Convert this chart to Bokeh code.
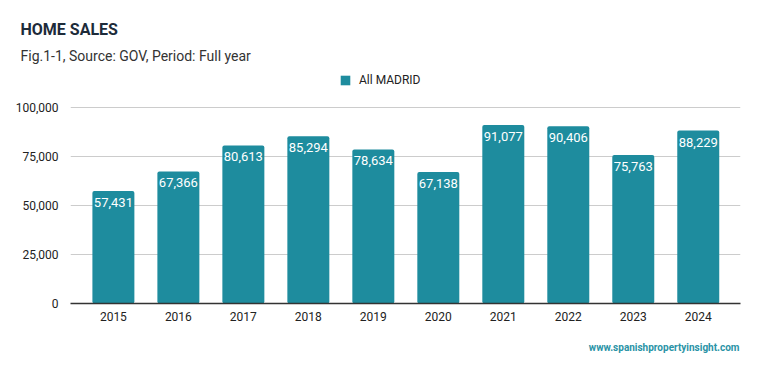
from bokeh.plotting import figure
from bokeh.models import (Range1d, FixedTicker, NumeralTickFormatter, Title,
                          ColumnDataSource, Legend, LegendItem)
from bokeh.core.properties import value
from bokeh.embed import file_html
from bokeh.resources import INLINE

years = [2015, 2016, 2017, 2018, 2019, 2020, 2021, 2022, 2023, 2024]
sales = [57431, 67366, 80613, 85294, 78634, 67138, 91077, 90406, 75763, 88229]
y_ticks = [0, 25000, 50000, 75000, 100000]
series_name = "All MADRID"
title_text = "HOME SALES"
subtitle_text = "Fig.1-1, Source: GOV, Period: Full year"
credit_text = "www.spanishpropertyinsight.com"

BAR = "#1e8c9e"
FONT = "Roboto"

FRAME_TOP = 64
x0, x1 = 2014.34, 2024.65
y1 = 100000 * (303 - FRAME_TOP) / 196.0

p = figure(width=751, height=371, output_backend="svg", toolbar_location=None,
           x_range=Range1d(x0, x1), y_range=Range1d(0, y1),
           min_border_left=70, min_border_right=11, min_border_top=FRAME_TOP,
           min_border_bottom=68, outline_line_color=None)

src = ColumnDataSource(dict(x=years, top=sales,
                            lab=[f"{v:,}" for v in sales]))
bars = p.vbar(x="x", top="top", width=0.646, source=src, fill_color=BAR,
              line_color=None, border_radius=2)
p.text(x="x", y="top", text="lab", source=src, text_align="center",
       text_baseline="top", y_offset=7, text_color="white",
       text_font=value(FONT), text_font_size="13px")

# axes
p.xaxis.ticker = FixedTicker(ticks=years)
p.xaxis.major_tick_line_color = None
p.xaxis.minor_tick_line_color = None
p.xaxis.axis_line_color = "#333333"
p.xaxis.axis_line_width = 1.5
p.xaxis.major_label_standoff = 2
p.xaxis.major_label_text_font = FONT
p.xaxis.major_label_text_font_size = "12px"
p.xaxis.major_label_text_color = "#222222"

p.yaxis.ticker = FixedTicker(ticks=y_ticks)
p.yaxis.formatter = NumeralTickFormatter(format="0,0")
p.yaxis.axis_line_color = None
p.yaxis.major_tick_line_color = None
p.yaxis.minor_tick_line_color = None
p.yaxis.major_label_standoff = 6
p.yaxis.major_label_text_font = FONT
p.yaxis.major_label_text_font_size = "12px"
p.yaxis.major_label_text_color = "#222222"

p.xgrid.grid_line_color = None
p.ygrid.ticker = FixedTicker(ticks=y_ticks)
p.ygrid.grid_line_color = "#cccccc"
p.ygrid.grid_line_width = 1

legend = Legend(items=[LegendItem(label=series_name, renderers=[bars])],
                location=(269, 216), orientation="horizontal",
                glyph_width=12, glyph_height=12, label_standoff=8,
                padding=0, margin=0, border_line_color=None,
                background_fill_alpha=0, label_text_font=FONT,
                label_text_font_size="12px", label_text_color="#222222")
p.add_layout(legend, "center")

# titles (first added sits nearest to the frame)
p.add_layout(Title(text=subtitle_text, align="left", offset=-50, standoff=2,
                   text_font=FONT, text_font_size="14px",
                   text_font_style="normal", text_color="#333333"), "above")
p.add_layout(Title(text=title_text, align="left", offset=-50, standoff=11,
                   text_font=FONT, text_font_size="16px",
                   text_font_style="bold", text_color="#1d2b3a"), "above")
p.add_layout(Title(text=credit_text, align="right", offset=1, standoff=33,
                   text_font=FONT, text_font_size="10px",
                   text_font_style="bold", text_color="#2a93a6"), "below")

open("out.html", "w").write(file_html(p, INLINE))
